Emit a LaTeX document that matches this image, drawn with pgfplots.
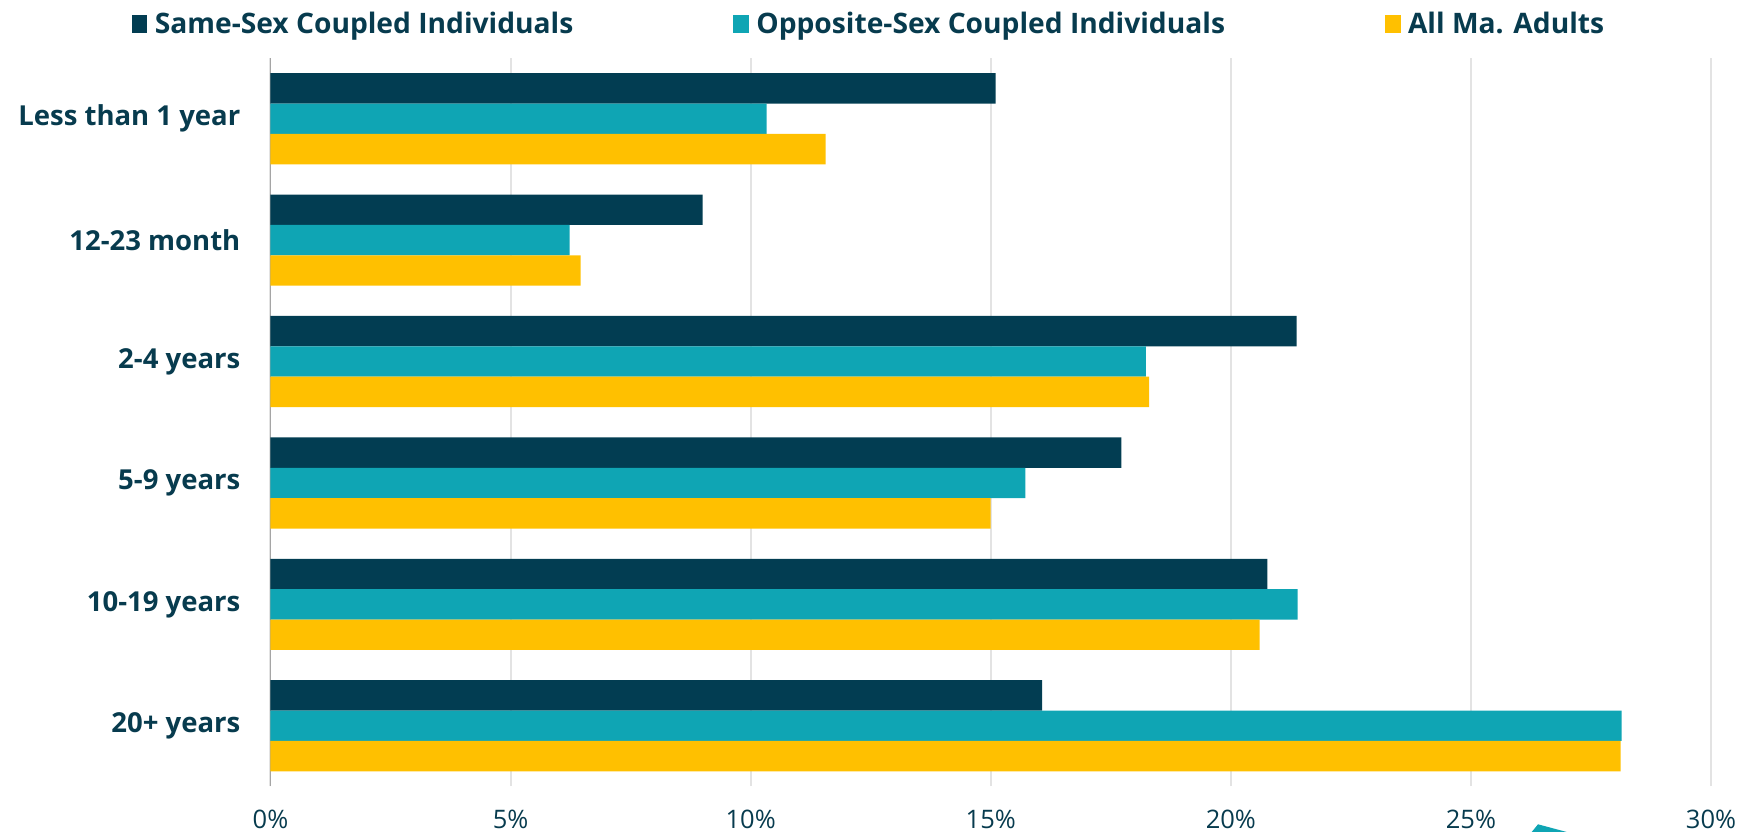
\documentclass[border=0pt]{standalone}
\usepackage{fontspec}
\setmainfont{Open Sans}
\usepackage{pgfplots}
\pgfplotsset{compat=1.18}
\definecolor{navy}{HTML}{023D52}
\definecolor{teal}{HTML}{0FA5B4}
\definecolor{gold}{HTML}{FFC000}
\definecolor{txt}{HTML}{073B4E}
\definecolor{gridc}{HTML}{E3E3E3}
\begin{document}
\begin{tikzpicture}
\useasboundingbox (-270.5pt,-45.5pt) rectangle (1467.5pt,786.5pt);
\fill[teal] (1261.2pt,-45.5pt) -- (1267.5pt,-37.8pt) -- (1296.2pt,-45.5pt) -- cycle;
\begin{axis}[
  at={(0,0)}, anchor=south west,
  scale only axis, width=1440.5pt, height=728.5pt,
  xbar=0pt, bar width=30.4pt,
  xmin=0, xmax=30, ymin=-0.5, ymax=5.5,
  xtick={0,5,...,30},
  xticklabel={\pgfmathprintnumber{\tick}\%},
  /pgf/number format/assume math mode=true,
  ytick={0,1,2,3,4,5},
  yticklabels={20+ years,10-19 years,5-9 years,2-4 years,12-23 month,Less than 1 year},
  major tick length=0pt,
  axis x line*=bottom, axis y line*=left,
  x axis line style={draw=none},
  y axis line style={draw={rgb,255:red,165;green,165;blue,165}, line width=1.5pt},
  xmajorgrids, major grid style={gridc, line width=2pt},
  xticklabel style={font=\fontsize{25.5}{30}\selectfont, text=txt, anchor=base, inner sep=0pt, yshift=-42pt},
  yticklabel style={font=\bfseries\fontsize{27.5}{32}\selectfont, text=txt, anchor=east, inner sep=0pt, xshift=-30pt},
  legend columns=3,
  legend image code/.code={\fill[#1] (0pt,-9pt) rectangle (15.5pt,9pt);},
  legend style={at={(axis description cs:0.4148,1.0467)}, anchor=center, draw=none, fill=none,
    inner sep=0pt, font=\bfseries\fontsize{28.2}{34}\selectfont, text=txt,
    nodes={inner sep=0pt},
    /tikz/every odd column/.append style={column sep=7.5pt},
    /tikz/every even column/.append style={column sep=160pt}},
  legend cell align=left,
]
\addplot[fill=navy, draw=none, bar shift=30.4pt] coordinates {(16.07,0) (20.76,1) (17.72,2) (21.37,3) (9.00,4) (15.10,5)};
\addplot[fill=teal, draw=none, bar shift=0pt] coordinates {(28.14,0) (21.39,1) (15.72,2) (18.23,3) (6.23,4) (10.33,5)};
\addplot[fill=gold, draw=none, bar shift=-30.4pt] coordinates {(28.12,0) (20.60,1) (15.00,2) (18.30,3) (6.46,4) (11.56,5)};
\legend{Same-Sex Coupled Individuals, Opposite-Sex Coupled Individuals, All Ma. Adults}
\end{axis}
\end{tikzpicture}
\end{document}
